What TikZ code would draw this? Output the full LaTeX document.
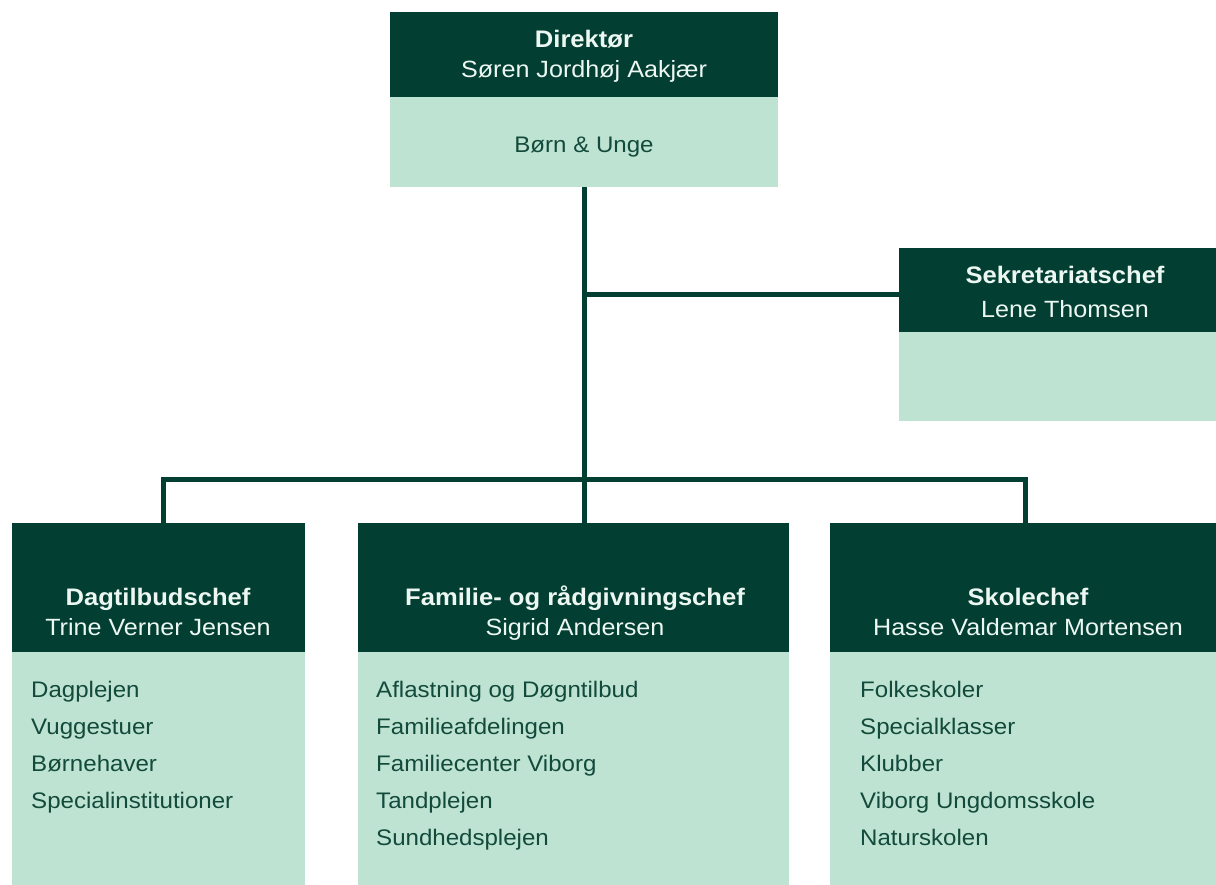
\documentclass[tikz,border=0pt]{standalone}
\usepackage{fontspec}
\setmainfont{Liberation Sans}[FakeStretch=1.07]
\definecolor{dk}{HTML}{023F32}
\definecolor{lt}{HTML}{BFE3D3}
\definecolor{tx}{HTML}{124A3B}
\definecolor{wt}{HTML}{EDF7F2}
\tikzset{
  hdr/.style={fill=dk, draw=none, inner sep=0pt, anchor=north west},
  bdy/.style={fill=lt, draw=none, inner sep=0pt, anchor=north west},
  ttl/.style={text=wt, inner sep=0pt, anchor=base, font=\bfseries\fontsize{23.9}{28}\selectfont},
  nam/.style={text=wt, inner sep=0pt, anchor=base, font=\fontsize{23.5}{28}\selectfont},
  itm/.style={text=tx, inner sep=0pt, anchor=base west, font=\fontsize{22.5}{28}\selectfont},
  conn/.style={draw=dk, line width=5pt, line join=miter}
}
\begin{document}
\begin{tikzpicture}[x=1pt,y=-1pt]
\useasboundingbox (0,0) rectangle (1216,884);
\clip (0,0) rectangle (1216,884);
\fill[white] (0,0) rectangle (1216,884);

% Director
\node[hdr, minimum width=388pt, minimum height=85pt] (dirH) at (390,12) {};
\node[bdy, minimum width=388pt, minimum height=90pt] (dirB) at (390,97) {};
\node[ttl] (dirT) at (584,47) {Direktør};
\node[nam] (dirN) at (584,77) {Søren Jordhøj Aakjær};
\node[itm, anchor=base, text=tx] (dirU) at (584,152) {Børn \& Unge};

% Secretary
\node[hdr, minimum width=330pt, minimum height=84pt] (sekH) at (899,248) {};
\node[bdy, minimum width=330pt, minimum height=89pt] (sekB) at (899,332) {};
\node[ttl] (sekT) at (1065,283) {Sekretariatschef};
\node[nam] (sekN) at (1065,317) {Lene Thomsen};

% Dagtilbud
\node[hdr, minimum width=293pt, minimum height=129pt] (dagH) at (12,523) {};
\node[bdy, minimum width=293pt, minimum height=240pt] (dagB) at (12,652) {};
\node[ttl] (dagT) at (158,605) {Dagtilbudschef};
\node[nam] (dagN) at (158,635) {Trine Verner Jensen};
\node[itm] (dag1) at (31,697) {Dagplejen};
\node[itm] (dag2) at (31,734) {Vuggestuer};
\node[itm] (dag3) at (31,771) {Børnehaver};
\node[itm] (dag4) at (31,808) {Specialinstitutioner};

% Familie
\node[hdr, minimum width=431pt, minimum height=129pt] (famH) at (358,523) {};
\node[bdy, minimum width=431pt, minimum height=240pt] (famB) at (358,652) {};
\node[ttl] (famT) at (575,605) {Familie- og rådgivningschef};
\node[nam] (famN) at (575,635) {Sigrid Andersen};
\node[itm] (fam1) at (376,697) {Aflastning og Døgntilbud};
\node[itm] (fam2) at (376,734) {Familieafdelingen};
\node[itm] (fam3) at (376,771) {Familiecenter Viborg};
\node[itm] (fam4) at (376,808) {Tandplejen};
\node[itm] (fam5) at (376,845) {Sundhedsplejen};

% Skole
\node[hdr, minimum width=396pt, minimum height=129pt] (skoH) at (830,523) {};
\node[bdy, minimum width=396pt, minimum height=240pt] (skoB) at (830,652) {};
\node[ttl] (skoT) at (1028,605) {Skolechef};
\node[nam] (skoN) at (1028,635) {Hasse Valdemar Mortensen};
\node[itm] (sko1) at (860,697) {Folkeskoler};
\node[itm] (sko2) at (860,734) {Specialklasser};
\node[itm] (sko3) at (860,771) {Klubber};
\node[itm] (sko4) at (860,808) {Viborg Ungdomsskole};
\node[itm] (sko5) at (860,845) {Naturskolen};

% Connectors
\coordinate (j1) at ([yshift=-107pt]dirB.south);
\draw[conn] (dirB.south) -- (dirB.south |- famH.north);
\draw[conn] (j1) -- (j1 -| sekH.west);
\draw[conn] ([xshift=4.5pt]dagH.north) -- ++(0,-44) -| ([xshift=-3pt]skoH.north);
\end{tikzpicture}
\end{document}
